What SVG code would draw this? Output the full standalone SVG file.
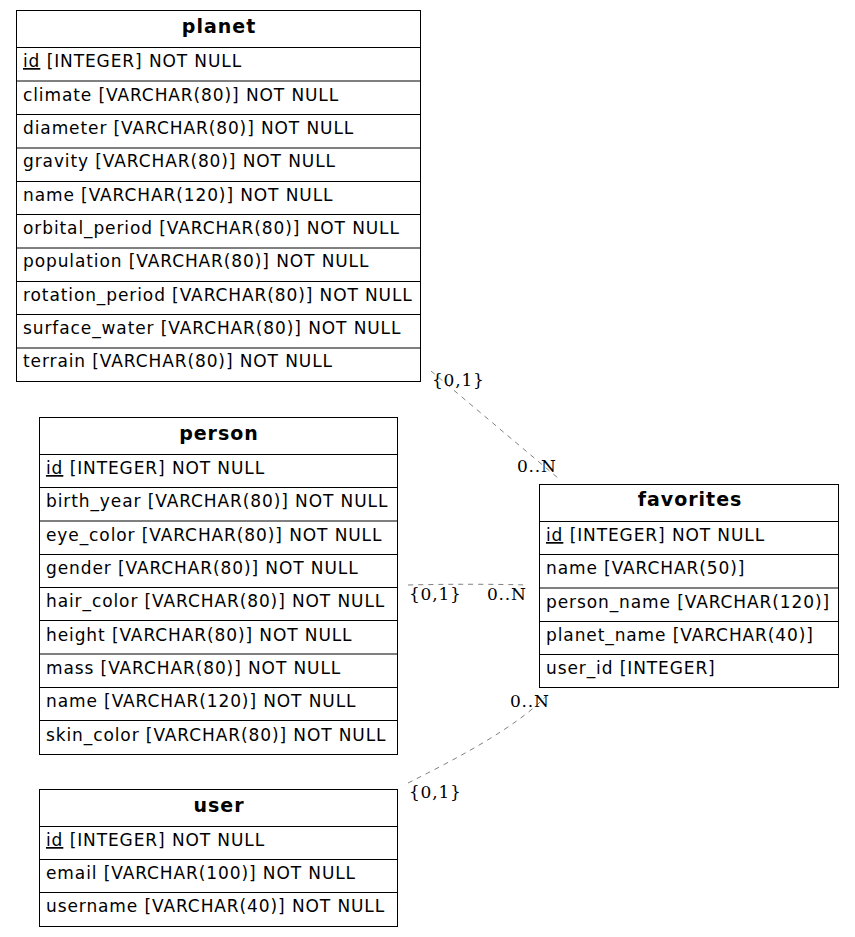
<svg xmlns="http://www.w3.org/2000/svg" width="855" height="937" viewBox="0 0 855 937">
<style>
.box{fill:#fff;stroke:#000;stroke-width:1}
.sep{stroke:#000;stroke-width:1}
.h{font-family:"DejaVu Sans",sans-serif;font-size:19px;font-weight:bold;text-anchor:middle;letter-spacing:1px}
.r{font-family:"DejaVu Sans",sans-serif;font-size:17px;letter-spacing:0.9px}
.u{text-decoration:underline}
.e{fill:none;stroke:#808080;stroke-width:1;stroke-dasharray:5,5}
.l{font-family:"DejaVu Serif","Liberation Serif",serif;font-size:17px;letter-spacing:0.8px}
</style>
<rect width="855" height="937" fill="#fff"/>
<g id="planet">
<rect class="box" x="16.5" y="10.5" width="404" height="371"/>
<path class="sep" d="M16.5 47.5H420.5M16.5 81H420.5M16.5 114.5H420.5M16.5 148H420.5M16.5 181.5H420.5M16.5 214.5H420.5M16.5 248H420.5M16.5 281.5H420.5M16.5 314.5H420.5M16.5 348H420.5"/>
<text class="h" x="219" y="33">planet</text>
<text class="r" x="23" y="67"><tspan class="u">id</tspan> [INTEGER] NOT NULL</text>
<text class="r" x="23" y="101">climate [VARCHAR(80)] NOT NULL</text>
<text class="r" x="23" y="134">diameter [VARCHAR(80)] NOT NULL</text>
<text class="r" x="23" y="167">gravity [VARCHAR(80)] NOT NULL</text>
<text class="r" x="23" y="201">name [VARCHAR(120)] NOT NULL</text>
<text class="r" x="23" y="234">orbital_period [VARCHAR(80)] NOT NULL</text>
<text class="r" x="23" y="267">population [VARCHAR(80)] NOT NULL</text>
<text class="r" x="23" y="301">rotation_period [VARCHAR(80)] NOT NULL</text>
<text class="r" x="23" y="334">surface_water [VARCHAR(80)] NOT NULL</text>
<text class="r" x="23" y="367">terrain [VARCHAR(80)] NOT NULL</text>
</g>
<g id="person">
<rect class="box" x="39.5" y="417.5" width="358" height="337"/>
<path class="sep" d="M39.5 454.5H397.5M39.5 487.5H397.5M39.5 521H397.5M39.5 554.5H397.5M39.5 587.5H397.5M39.5 620.5H397.5M39.5 654H397.5M39.5 687.5H397.5M39.5 720.5H397.5"/>
<text class="h" x="219" y="440">person</text>
<text class="r" x="46" y="474"><tspan class="u">id</tspan> [INTEGER] NOT NULL</text>
<text class="r" x="46" y="507">birth_year [VARCHAR(80)] NOT NULL</text>
<text class="r" x="46" y="541">eye_color [VARCHAR(80)] NOT NULL</text>
<text class="r" x="46" y="574">gender [VARCHAR(80)] NOT NULL</text>
<text class="r" x="46" y="607">hair_color [VARCHAR(80)] NOT NULL</text>
<text class="r" x="46" y="641">height [VARCHAR(80)] NOT NULL</text>
<text class="r" x="46" y="674">mass [VARCHAR(80)] NOT NULL</text>
<text class="r" x="46" y="707">name [VARCHAR(120)] NOT NULL</text>
<text class="r" x="46" y="741">skin_color [VARCHAR(80)] NOT NULL</text>
</g>
<g id="favorites">
<rect class="box" x="539.5" y="484.5" width="299" height="203"/>
<path class="sep" d="M539.5 521.5H838.5M539.5 554.5H838.5M539.5 588H838.5M539.5 621.5H838.5M539.5 654.5H838.5"/>
<text class="h" x="690" y="506">favorites</text>
<text class="r" x="546" y="541"><tspan class="u">id</tspan> [INTEGER] NOT NULL</text>
<text class="r" x="546" y="574">name [VARCHAR(50)]</text>
<text class="r" x="546" y="608">person_name [VARCHAR(120)]</text>
<text class="r" x="546" y="641">planet_name [VARCHAR(40)]</text>
<text class="r" x="546" y="674">user_id [INTEGER]</text>
</g>
<g id="user">
<rect class="box" x="39.5" y="789.5" width="358" height="137"/>
<path class="sep" d="M39.5 826.5H397.5M39.5 859.5H397.5M39.5 892.5H397.5"/>
<text class="h" x="219" y="812">user</text>
<text class="r" x="46" y="846"><tspan class="u">id</tspan> [INTEGER] NOT NULL</text>
<text class="r" x="46" y="879">email [VARCHAR(100)] NOT NULL</text>
<text class="r" x="46" y="912">username [VARCHAR(40)] NOT NULL</text>
</g>
<g id="connectors">
<path class="e" d="M431 371L558 478"/>
<path class="e" d="M408 585C450 584 490 584 528 585"/>
<path class="e" d="M408 783C460 757 520 725 548 694"/>
<text class="l" x="432" y="386">{0,1}</text>
<text class="l" x="517" y="472">0..N</text>
<text class="l" x="409" y="600">{0,1}</text>
<text class="l" x="487" y="600">0..N</text>
<text class="l" x="510" y="707">0..N</text>
<text class="l" x="409" y="798">{0,1}</text>
</g>
</svg>
